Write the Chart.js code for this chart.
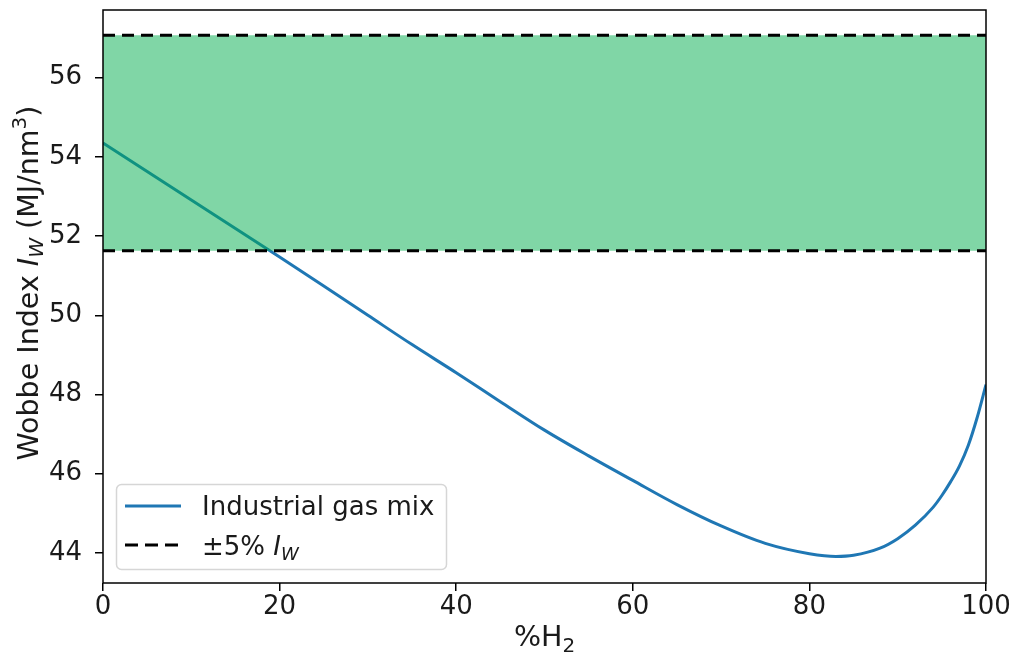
<!DOCTYPE html>
<html>
<head>
<meta charset="utf-8">
<script src="https://cdn.jsdelivr.net/npm/chart.js@4.4.1/dist/chart.umd.min.js"></script>
<style>
  html, body { margin: 0; padding: 0; background: #ffffff; }
  #wrap { width: 1014px; height: 664px; }
</style>
</head>
<body>
<div id="wrap"><canvas id="chart" width="1014" height="664"></canvas></div>
<script>
// Hydrogen share in the blend (%)
const h2Percent = [0, 5, 10, 15, 20, 25, 30, 35, 40, 45, 50, 55, 60, 65, 70, 75, 80, 83, 85, 88, 90, 92, 94, 95, 96, 97, 98, 99, 100];
// Wobbe index of the industrial gas mix (MJ/nm3)
const wobbeIndex = [54.35, 53.63, 52.91, 52.19, 51.47, 50.74, 50.0, 49.26, 48.55, 47.82, 47.10, 46.45, 45.83, 45.22, 44.68, 44.24, 43.98, 43.91, 43.94, 44.12, 44.36, 44.70, 45.15, 45.45, 45.8, 46.2, 46.72, 47.42, 48.25];
// Tolerance band: +/-5 % around the pure gas value
const bandLower = [51.63, 51.63];
const bandUpper = [57.07, 57.07];
const bandX = [0, 100];
// Axis ticks
const xTicks = [0, 20, 40, 60, 80, 100];
const yTicks = [44, 46, 48, 50, 52, 54, 56];

const FONT = "'DejaVu Sans', sans-serif";
const TXT = '#1a1a1a';
const BLUE = '#1f77b4';

const toPts = (xs, ys) => xs.map((x, i) => ({ x: x, y: ys[i] }));

// Frame, axis titles with math text and the legend
const decorations = {
  id: 'decorations',
  afterDatasetsDraw(chart) {
    const { ctx, chartArea: a } = chart;
    ctx.save();
    ctx.strokeStyle = '#000';
    ctx.lineWidth = 1.5;
    ctx.strokeRect(a.left, a.top, a.right - a.left, a.bottom - a.top);
    ctx.restore();
  },
  afterDraw(chart) {
    const { ctx, chartArea: a } = chart;
    ctx.save();
    ctx.fillStyle = TXT;
    ctx.textBaseline = 'alphabetic';

    // x title: %H2
    const tBig = '28.5px ' + FONT, tSmall = '20px ' + FONT;
    ctx.font = tBig;
    const wMain = ctx.measureText('%H').width;
    ctx.font = tSmall;
    const wSub = ctx.measureText('2').width;
    const cx = (a.left + a.right) / 2;
    let x0 = cx - (wMain + wSub) / 2;
    ctx.font = tBig;
    ctx.textAlign = 'left';
    ctx.fillText('%H', x0, 646);
    ctx.font = tSmall;
    ctx.fillText('2', x0 + wMain, 652);

    // y title: Wobbe Index I_W (MJ/nm^3)
    const segs = [
      { t: 'Wobbe Index ', f: tBig, dy: 0 },
      { t: 'I', f: 'italic ' + tBig, dy: 0 },
      { t: 'W', f: 'italic ' + tSmall, dy: 5 },
      { t: ' (MJ/nm', f: tBig, dy: 0 },
      { t: '3', f: tSmall, dy: -12 },
      { t: ')', f: tBig, dy: 0 }
    ];
    let total = 0;
    segs.forEach(s => { ctx.font = s.f; s.w = ctx.measureText(s.t).width; total += s.w; });
    ctx.translate(38, 283);
    ctx.rotate(-Math.PI / 2);
    let px = -total / 2;
    segs.forEach(s => { ctx.font = s.f; ctx.fillText(s.t, px, s.dy); px += s.w; });
    ctx.restore();

    // legend box
    ctx.save();
    const big = '26px ' + FONT, small = '18px ' + FONT;
    const lx = 116.5, ly = 484.5, lw = 330, lh = 85, r = 5;
    ctx.beginPath();
    ctx.moveTo(lx + r, ly);
    ctx.arcTo(lx + lw, ly, lx + lw, ly + lh, r);
    ctx.arcTo(lx + lw, ly + lh, lx, ly + lh, r);
    ctx.arcTo(lx, ly + lh, lx, ly, r);
    ctx.arcTo(lx, ly, lx + lw, ly, r);
    ctx.closePath();
    ctx.fillStyle = 'rgba(255,255,255,0.8)';
    ctx.fill();
    ctx.strokeStyle = '#d6d6d6';
    ctx.lineWidth = 1.5;
    ctx.stroke();

    ctx.lineWidth = 3;
    ctx.strokeStyle = BLUE;
    ctx.beginPath(); ctx.moveTo(125, 506); ctx.lineTo(181, 506); ctx.stroke();
    ctx.strokeStyle = '#000';
    ctx.setLineDash([13, 7]);
    ctx.beginPath(); ctx.moveTo(125, 545); ctx.lineTo(181, 545); ctx.stroke();
    ctx.setLineDash([]);

    ctx.fillStyle = TXT;
    ctx.textAlign = 'left';
    ctx.font = big;
    ctx.fillText('Industrial gas mix', 202, 515);
    const t1 = '\u00b15% ';
    ctx.fillText(t1, 202, 555);
    let tx = 202 + ctx.measureText(t1).width;
    ctx.font = 'italic ' + big;
    ctx.fillText('I', tx, 555);
    tx += ctx.measureText('I').width;
    ctx.font = 'italic ' + small;
    ctx.fillText('W', tx, 560);
    ctx.restore();
  }
};

new Chart(document.getElementById('chart'), {
  type: 'line',
  data: {
    datasets: [
      {
        label: 'upper limit',
        data: toPts(bandX, bandUpper),
        borderColor: '#000', borderWidth: 3, borderDash: [12, 7],
        pointRadius: 0, fill: false, order: 1
      },
      {
        label: 'lower limit',
        data: toPts(bandX, bandLower),
        borderColor: '#000', borderWidth: 3, borderDash: [12, 7],
        pointRadius: 0, fill: false, order: 1
      },
      {
        label: 'band',
        data: toPts(bandX, bandUpper),
        borderWidth: 0, borderColor: 'rgba(0,0,0,0)',
        backgroundColor: 'rgba(1,173,77,0.5)',
        pointRadius: 0, fill: { value: bandLower[0] }, order: 2
      },
      {
        label: 'Industrial gas mix',
        data: toPts(h2Percent, wobbeIndex),
        borderColor: BLUE, borderWidth: 3,
        pointRadius: 0, fill: false, cubicInterpolationMode: 'monotone', order: 3
      }
    ]
  },
  options: {
    responsive: false,
    animation: false,
    layout: { padding: { left: 0, top: 10, right: 28, bottom: 0 } },
    plugins: { legend: { display: false }, tooltip: { enabled: false } },
    scales: {
      x: {
        type: 'linear', min: 0, max: 100,
        afterBuildTicks: s => { s.ticks = xTicks.map(v => ({ value: v })); },
        afterFit: s => { s.height = 81; s.paddingLeft = 0; s.paddingRight = 0; },
        grid: { display: true, drawOnChartArea: false, drawTicks: true, tickLength: 8, color: '#000', lineWidth: 1.5 },
        border: { display: false },
        ticks: { color: TXT, font: { family: FONT, size: 26 }, padding: 1, maxRotation: 0 }
      },
      y: {
        type: 'linear', min: 43.24, max: 57.71,
        afterBuildTicks: s => { s.ticks = yTicks.map(v => ({ value: v })); },
        afterFit: s => { s.width = 103; s.paddingTop = 0; s.paddingBottom = 0; },
        grid: { display: true, drawOnChartArea: false, drawTicks: true, tickLength: 8, color: '#000', lineWidth: 1.5 },
        border: { display: false },
        ticks: { color: TXT, font: { family: FONT, size: 26 }, padding: 13 }
      }
    }
  },
  plugins: [decorations]
});
</script>
</body>
</html>
